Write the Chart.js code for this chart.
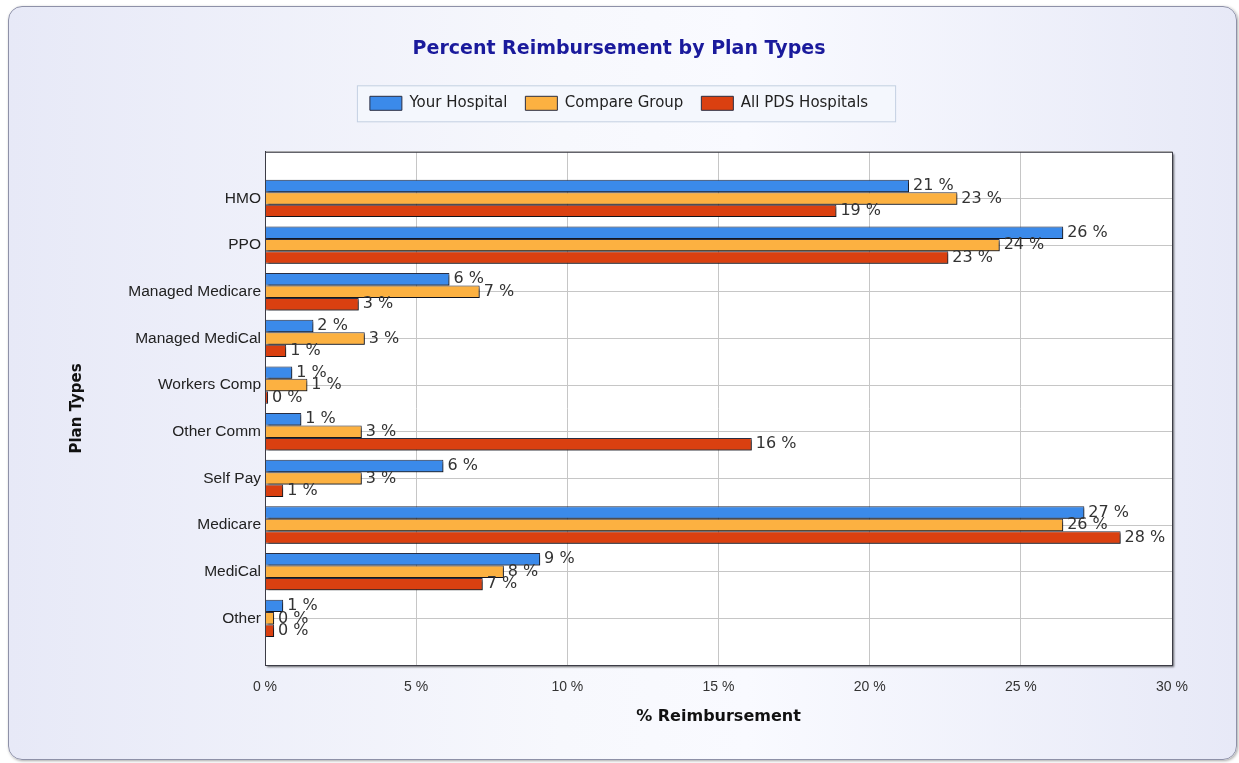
<!DOCTYPE html>
<html lang="en">
<head>
  <meta charset="UTF-8" />
  <title>Percent Reimbursement by Plan Types</title>
  <script src="https://cdn.jsdelivr.net/npm/chart.js"></script>
  <style>
    html, body {
      margin: 0;
      padding: 0;
      background: #ffffff;
      overflow: hidden;
    }

    .panel {
      position: absolute;
      left: 8px;
      top: 6px;
      width: 1229px;
      height: 754px;
      box-sizing: border-box;
      border: 1px solid #8e91a8;
      border-radius: 14px;
      background: linear-gradient(to right, #e7e9f7 0%, #f7f8fd 45%, #f9faff 60%, #e7e9f7 100%);
      box-shadow: 1px 1px 3px rgba(0, 0, 0, 0.35);
    }

    .wrap {
      position: absolute;
      left: 0;
      top: 0;
      width: 1239px;
      height: 763px;
    }
  </style>
</head>
<body>

  <div class="panel"></div>
  <div class="wrap"><canvas id="barChart"></canvas></div>

  <script>
    const categories = ['HMO', 'PPO', 'Managed Medicare', 'Managed MediCal', 'Workers Comp',
                        'Other Comm', 'Self Pay', 'Medicare', 'MediCal', 'Other'];
    const yourHospital = [21.3, 26.4, 6.1, 1.6, 0.9, 1.2, 5.9, 27.1, 9.1, 0.6];
    const compareGroup = [22.9, 24.3, 7.1, 3.3, 1.4, 3.2, 3.2, 26.4, 7.9, 0.3];
    const allPdsHospitals = [18.9, 22.6, 3.1, 0.7, 0.1, 16.1, 0.6, 28.3, 7.2, 0.3];
    const xTicks = [0, 5, 10, 15, 20, 25, 30];

    // empty slot above and below so the groups sit half a band away from the frame
    const pad = arr => [null, ...arr, null];

    const plotFrame = {
      id: 'plotFrame',
      beforeDraw(chart) {
        const {ctx, chartArea: a} = chart;
        ctx.save();
        ctx.shadowColor = 'rgba(0,0,0,0.6)';
        ctx.shadowOffsetX = 2;
        ctx.shadowOffsetY = 2;
        ctx.shadowBlur = 2;
        ctx.fillStyle = '#ffffff';
        ctx.fillRect(a.left, a.top, a.right - a.left, a.bottom - a.top);
        ctx.restore();

        // box round the legend
        const boxes = chart.legend.legendHitBoxes;
        if (boxes && boxes.length) {
          const l = Math.min(...boxes.map(b => b.left)) - 13;
          const r = Math.max(...boxes.map(b => b.left + b.width)) + 27;
          const t = boxes[0].top + boxes[0].height / 2 - 18;
          const h = 36;
          ctx.save();
          ctx.fillStyle = '#f4f7fd';
          ctx.strokeStyle = '#c4d0e2';
          ctx.lineWidth = 1;
          ctx.fillRect(l, t, r - l, h);
          ctx.strokeRect(l + 0.5, t + 0.5, r - l, h);
          ctx.restore();
        }
      },
      beforeDatasetsDraw(chart) {
        const ctx = chart.ctx;
        ctx.save();
        ctx.shadowColor = 'rgba(0,0,0,0.6)';
        ctx.shadowOffsetX = 2;
        ctx.shadowOffsetY = 2;
        ctx.shadowBlur = 2;
      },
      afterDatasetsDraw(chart) {
        const ctx = chart.ctx;
        ctx.restore();
        ctx.save();
        ctx.font = '16px "DejaVu Sans"';
        ctx.fillStyle = '#333333';
        ctx.textAlign = 'left';
        ctx.textBaseline = 'middle';
        chart.data.datasets.forEach((ds, i) => {
          chart.getDatasetMeta(i).data.forEach((bar, j) => {
            const v = ds.data[j];
            if (v === null) return;
            ctx.fillText(Math.round(v) + ' %', bar.x + 4, bar.y);
          });
        });
        ctx.restore();
      },
      afterDraw(chart) {
        const {ctx, chartArea: a} = chart;
        ctx.save();
        ctx.strokeStyle = '#3c3c46';
        ctx.lineWidth = 1;
        ctx.strokeRect(a.left + 0.5, a.top + 0.5, a.right - a.left, a.bottom - a.top);
        ctx.restore();
      }
    };

    const ctx = document.getElementById('barChart').getContext('2d');

    new Chart(ctx, {
      type: 'bar',
      data: {
        labels: ['', ...categories, ''],
        datasets: [
          {
            label: 'Your Hospital',
            data: pad(yourHospital),
            backgroundColor: '#3b8aea',
            borderColor: '#2a2e42',
            borderWidth: 1
          },
          {
            label: 'Compare Group',
            data: pad(compareGroup),
            backgroundColor: '#fcb141',
            borderColor: '#2a2e42',
            borderWidth: 1
          },
          {
            label: 'All PDS Hospitals',
            data: pad(allPdsHospitals),
            backgroundColor: '#da4010',
            borderColor: '#2a2e42',
            borderWidth: 1
          }
        ]
      },
      options: {
        indexAxis: 'y',
        responsive: true,
        maintainAspectRatio: false,
        animation: false,
        categoryPercentage: 0.8,
        barPercentage: 1,
        layout: {
          padding: {left: 66, right: 67, top: 0, bottom: 33}
        },
        plugins: {
          title: {
            display: true,
            text: 'Percent Reimbursement by Plan Types',
            color: '#1a1a9c',
            font: {family: '"DejaVu Sans"', size: 19, weight: 'bold'},
            padding: {top: 38, bottom: 17}
          },
          legend: {
            display: true,
            position: 'top',
            labels: {
              boxWidth: 32,
              boxHeight: 14,
              padding: 18,
              color: '#222222',
              font: {family: '"DejaVu Sans"', size: 15}
            }
          },
          tooltip: {enabled: false}
        },
        scales: {
          x: {
            type: 'linear',
            position: 'bottom',
            min: 0,
            max: 30,
            afterBuildTicks(scale) {
              scale.ticks = xTicks.map(v => ({value: v}));
            },
            afterFit(scale) {
              scale.height = 65;
            },
            ticks: {
              padding: 14,
              color: '#333333',
              font: {family: '"Liberation Sans Narrow", "Liberation Sans"', size: 14},
              callback: v => v + ' %'
            },
            grid: {color: '#c6c6c6', drawTicks: false},
            border: {display: true, color: '#3c3c46'},
            title: {
              display: true,
              text: '% Reimbursement',
              color: '#111111',
              font: {family: '"DejaVu Sans"', size: 16, weight: 'bold'},
              padding: 4
            }
          },
          top: {
            type: 'linear',
            axis: 'x',
            position: 'top',
            display: true,
            grid: {display: false},
            ticks: {display: false},
            border: {display: false},
            afterFit(scale) {
              scale.height = 31;
            }
          },
          y: {
            offset: false,
            afterFit(scale) {
              scale.width = 199;
            },
            ticks: {
              padding: 4,
              color: '#222222',
              font: {family: '"Liberation Sans"', size: 15.5},
              autoSkip: false
            },
            grid: {offset: false, color: '#c6c6c6', drawTicks: false},
            border: {display: true, color: '#3c3c46'},
            title: {
              display: true,
              text: 'Plan Types',
              color: '#111111',
              font: {family: '"DejaVu Sans"', size: 15, weight: 'bold'},
              padding: 2
            }
          }
        }
      },
      plugins: [plotFrame]
    });
  </script>

</body>
</html>
